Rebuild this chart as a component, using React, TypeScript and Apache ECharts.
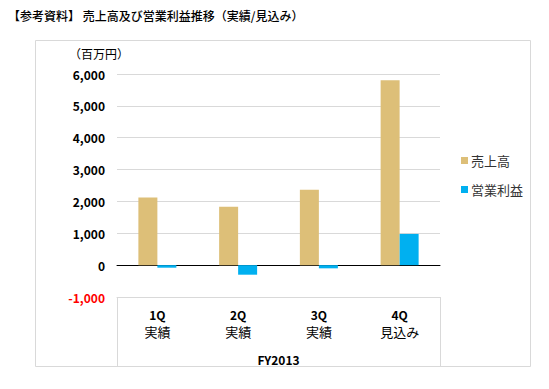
import React, { useEffect, useRef } from "react";
import * as echarts from "echarts";

const quarters = ["1Q", "2Q", "3Q", "4Q"];
const status = ["実績", "実績", "実績", "見込み"];
const fiscalYear = "FY2013";
const sales = [2120, 1830, 2370, 5800];
const operatingProfit = [-80, -300, -100, 980];
const seriesNames = ["売上高", "営業利益"];
const titleText = "【参考資料】 売上高及び営業利益推移（実績/見込み）";
const unitText = "（百万円）";

const FONT = "'Noto Sans CJK JP', 'Noto Sans', sans-serif";

export default function App() {
  const ref = useRef<HTMLDivElement>(null);
  useEffect(() => {
    if (!ref.current) return;
    const chart = echarts.init(ref.current, null, { renderer: "svg" });
    chart.setOption({
      animation: false,
      backgroundColor: "#ffffff",
      textStyle: { fontFamily: FONT },
      title: {
        text: titleText,
        left: 3,
        top: 4,
        textStyle: { fontFamily: FONT, fontSize: 12, fontWeight: 500, color: "#000" },
      },
      legend: {
        orient: "vertical",
        left: 456,
        top: 149,
        itemWidth: 7,
        itemHeight: 7,
        itemGap: 16,
        icon: "rect",
        data: seriesNames,
        textStyle: { fontFamily: FONT, fontSize: 13, color: "#333", padding: [0, 0, 0, -2] },
      },
      grid: { left: 117, right: 109, top: 74, bottom: 92, containLabel: false },
      xAxis: [
        {
          type: "category",
          data: quarters,
          position: "bottom",
          axisLine: { onZero: false, lineStyle: { color: "#D9D9D9", width: 1 } },
          axisTick: { show: false },
          axisLabel: {
            margin: 11,
            interval: 0,
            fontFamily: FONT,
            fontSize: 12,
            fontWeight: "bold",
            color: "#000",
          },
          name: fiscalYear,
          nameLocation: "middle",
          nameGap: 56,
          nameTextStyle: { fontFamily: FONT, fontSize: 12, fontWeight: "bold", color: "#000" },
        },
        {
          type: "category",
          data: quarters,
          position: "bottom",
          axisLine: { onZero: true, lineStyle: { color: "#000", width: 1 } },
          axisTick: { show: false },
          axisLabel: { show: false },
        },
        {
          type: "category",
          data: status,
          position: "bottom",
          axisLine: { show: false, onZero: false },
          axisTick: { show: false },
          axisLabel: {
            margin: 28,
            interval: 0,
            fontFamily: FONT,
            fontSize: 13,
            color: "#000",
          },
        },
      ],
      yAxis: {
        type: "value",
        min: -1000,
        max: 6000,
        interval: 1000,
        axisLine: { show: false },
        axisTick: { show: false },
        splitLine: {
          lineStyle: { color: "#D9D9D9", width: 1 },
        },
        axisLabel: {
          margin: 12,
          fontFamily: FONT,
          fontSize: 12,
          fontWeight: "bold",
          color: (v: any) => (Number(v) < 0 ? "#FF0000" : "#000"),
          formatter: (v: number) => v.toLocaleString("en-US"),
        },
      },
      series: [
        {
          name: seriesNames[0],
          type: "bar",
          data: sales,
          barWidth: 19,
          barGap: "0%",
          itemStyle: { color: "#DDBF78" },
        },
        {
          name: seriesNames[1],
          type: "bar",
          data: operatingProfit,
          barWidth: 19,
          barGap: "0%",
          itemStyle: { color: "#00B0F0" },
        },
      ],
      graphic: [
        {
          type: "rect",
          shape: { x: 35.5, y: 40.5, width: 495, height: 326 },
          style: { fill: "none", stroke: "#D9D9D9", lineWidth: 1 },
          z: -1,
        },
        {
          type: "text",
          left: 69,
          top: 47,
          style: { text: unitText, fontFamily: FONT, fontSize: 12, fill: "#000" },
        },
        {
          type: "line",
          shape: { x1: 117.5, y1: 297, x2: 117.5, y2: 366 },
          style: { stroke: "#D9D9D9", lineWidth: 1 },
        },
        {
          type: "line",
          shape: { x1: 440.5, y1: 297, x2: 440.5, y2: 366 },
          style: { stroke: "#D9D9D9", lineWidth: 1 },
        },
      ],
    });
    return () => chart.dispose();
  }, []);
  return <div ref={ref} style={{ width: 549, height: 389, position: "absolute", left: 0, top: 0 }} />;
}
